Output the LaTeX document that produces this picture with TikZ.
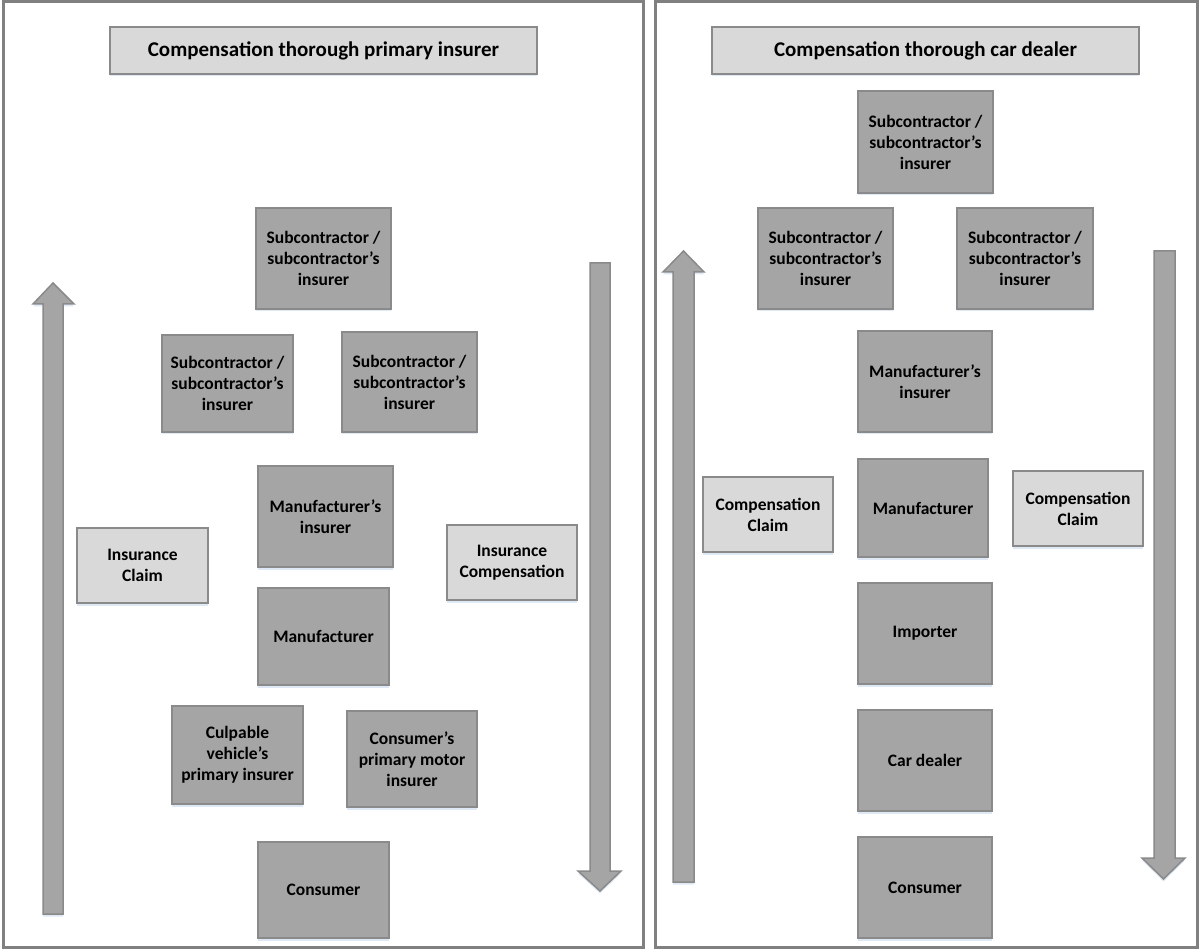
\documentclass[tikz,border=0pt]{standalone}
\usepackage{fontspec}
\setmainfont{Carlito}
\usetikzlibrary{shadows}
\definecolor{darkfill}{HTML}{A5A5A5}
\definecolor{lightfill}{HTML}{D9D9D9}
\definecolor{edgegray}{HTML}{8A8A8A}
\definecolor{framegray}{HTML}{808080}
\definecolor{glow}{HTML}{DCE7F4}
\begin{document}
\begin{tikzpicture}[x=1pt,y=-1pt,
  glowshadow/.style={drop shadow={shadow xshift=0pt,shadow yshift=-2.5pt,fill=glow,opacity=0.9}},
  darkbox/.style={draw=edgegray,line width=1.5pt,fill=darkfill,glowshadow,align=center,
    font=\fontsize{17.5}{21}\selectfont\bfseries,inner sep=2pt,minimum width=134pt,minimum height=101pt},
  lightbox/.style={draw=edgegray,line width=1.5pt,fill=lightfill,glowshadow,align=center,
    font=\fontsize{17.5}{21}\selectfont\bfseries,inner sep=2pt,minimum width=130pt,minimum height=75pt},
  titlebox/.style={draw=edgegray,line width=1.5pt,fill=lightfill,glowshadow,align=center,
    font=\fontsize{21}{25}\selectfont\bfseries,minimum width=427pt,minimum height=47pt},
  panel/.style={draw=framegray,line width=3pt},
  blockarrow/.style={draw=edgegray,line width=1.5pt,fill=darkfill,line join=miter,glowshadow}
]
\useasboundingbox (0,0) rectangle (1200,949);
\fill[white] (0,0) rectangle (1200,949);

% panels
\draw[panel] (3.5,2) rectangle (643.5,947);
\draw[panel] (655,2) rectangle (1197.5,947);

% ---------- left panel ----------
\node[titlebox] (tL) at (323.5,50.5) {Compensation thorough primary insurer};
\node[darkbox,minimum width=135pt] (subA) at (323.5,258.5) {Subcontractor /\\subcontractor’s\\insurer};
\node[darkbox,minimum width=131pt,minimum height=97pt] (subB) at (227.5,383.5) {Subcontractor /\\subcontractor’s\\insurer};
\node[darkbox,minimum width=135pt,minimum height=100pt] (subC) at (409.5,382) {Subcontractor /\\subcontractor’s\\insurer};
\node[darkbox,minimum width=135pt] (mfrinsL) at (325.5,516.5) {Manufacturer’s\\insurer};
\node[lightbox,minimum width=131pt] (claimL) at (142.5,565.5) {Insurance\\Claim};
\node[lightbox] (compL) at (512,562.5) {Insurance\\Compensation};
\node[darkbox,minimum width=131pt,minimum height=97pt] (mfrL) at (323.5,636.5) {Manufacturer};
\node[darkbox,minimum width=131pt,minimum height=98pt] (culp) at (237.5,755) {Culpable\\vehicle’s\\primary insurer};
\node[darkbox,minimum width=130pt,minimum height=96pt] (consins) at (412,759) {Consumer’s\\primary motor\\insurer};
\node[darkbox,minimum width=131pt,minimum height=96pt] (consL) at (323.5,890) {Consumer};

% left panel arrows
\draw[blockarrow] (43,914) -- (43,304) -- (33,304) -- (53,283) -- (74,304) -- (63,304) -- (63,914) -- cycle;
\draw[blockarrow] (590,263) -- (610,263) -- (610,871) -- (621,871) -- (600,891) -- (578,871) -- (590,871) -- cycle;

% ---------- right panel ----------
\node[titlebox] (tR) at (925.5,50.5) {Compensation thorough car dealer};
\node[darkbox,minimum width=135pt,minimum height=102pt] (subT) at (925.5,142) {Subcontractor /\\subcontractor’s\\insurer};
\node[darkbox,minimum width=135pt] (subL) at (825.5,258.5) {Subcontractor /\\subcontractor’s\\insurer};
\node[darkbox,minimum width=136pt] (subR) at (1025,258.5) {Subcontractor /\\subcontractor’s\\insurer};
\node[darkbox] (mfrinsR) at (925,381.5) {Manufacturer’s\\insurer};
\node[lightbox] (claimR1) at (768,514.5) {Compensation\\Claim};
\node[darkbox,minimum width=130pt,minimum height=98pt] (mfrR) at (923,508) {Manufacturer};
\node[lightbox] (claimR2) at (1078,508.5) {Compensation\\Claim};
\node[darkbox] (imp) at (925,633.5) {Importer};
\node[darkbox] (dealer) at (925,760.5) {Car dealer};
\node[darkbox] (consR) at (925,887.5) {Consumer};

% right panel arrows
\draw[blockarrow] (673,882) -- (673,272) -- (663,272) -- (683.5,251) -- (704,272) -- (694,272) -- (694,882) -- cycle;
\draw[blockarrow] (1154,251) -- (1175,251) -- (1175,858) -- (1185,858) -- (1163.5,879) -- (1142,858) -- (1154,858) -- cycle;
\end{tikzpicture}
\end{document}
